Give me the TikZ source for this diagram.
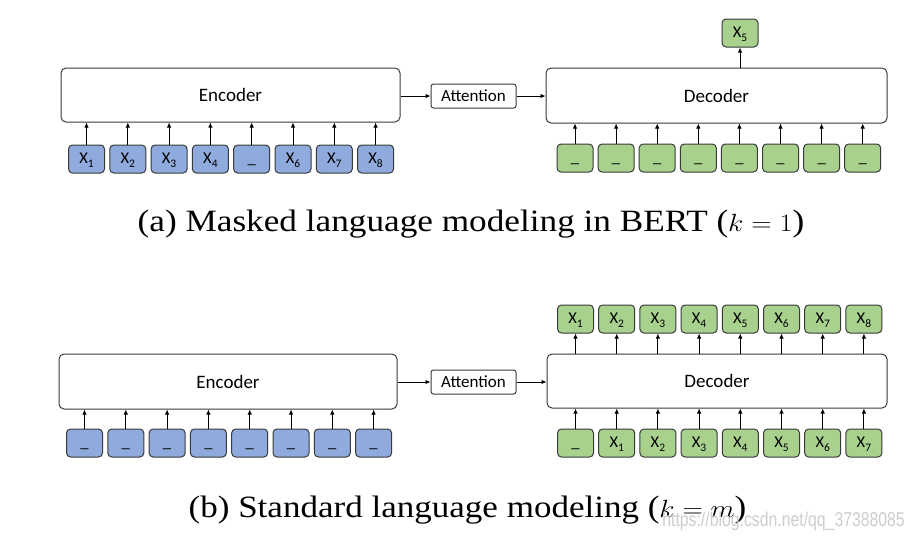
\documentclass[tikz,border=0pt]{standalone}
\usepackage{fontspec}
\usepackage{graphicx}
\setmainfont{Liberation Serif}
\newfontfamily\boxfont{Carlito}
\newfontfamily\wmfont{Liberation Sans}
\usetikzlibrary{arrows.meta}
\definecolor{edge}{HTML}{3A3A3A}
\definecolor{tokblue}{HTML}{8FAADC}
\definecolor{tokgreen}{HTML}{A9D18E}
\definecolor{wmgray}{HTML}{CDCDCD}
\newcommand\xs[1]{X\raisebox{-4pt}{\fontsize{11.5}{12}\selectfont #1}}
\tikzset{
 bigbox/.style={draw=edge, line width=1pt, rounded corners=5pt, fill=white, inner sep=0pt, font=\boxfont\fontsize{19}{21}\selectfont},
 attbox/.style={draw=edge, line width=1pt, rounded corners=2.5pt, fill=white, minimum width=85pt, minimum height=24pt, inner sep=0pt, font=\boxfont\fontsize{17}{19}\selectfont},
 tok/.style={draw=edge, line width=1pt, rounded corners=4pt, minimum width=36pt, minimum height=28pt, inner sep=0pt, text height=11pt, text depth=2pt, font=\boxfont\fontsize{16.5}{18}\selectfont},
 btok/.style={tok, fill=tokblue},
 gtok/.style={tok, fill=tokgreen},
 arr/.style={-{Latex[length=5pt,width=4.5pt]}, line width=0.9pt, draw=black},
 captext/.style={font=\fontsize{31}{36}\selectfont, inner sep=0pt, anchor=base},
 wmark/.style={font=\wmfont\fontsize{20}{22}\selectfont, text=wmgray, inner sep=0pt, anchor=base east}
}
\begin{document}
\begin{tikzpicture}[x=1pt,y=-1pt]
\useasboundingbox (0,0) rectangle (916,544);
% ---------- (a) ----------
\node[bigbox, minimum width=339pt, minimum height=54pt] (encA) at (230.5,95) {Encoder};
\node[attbox] (attA) at (473.5,96) {Attention};
\node[bigbox, minimum width=341pt, minimum height=55pt] (decA) at (716.5,95.5) {Decoder};
\draw[arr] (encA.east |- attA) -- (attA.west);
\draw[arr] (attA.east) -- (decA.west |- attA);
\foreach \lab [count=\i from 0] in {\xs1,\xs2,\xs3,\xs4,\_,\xs6,\xs7,\xs8}{
  \node[btok] (ea\i) at (86.5+41.3*\i,159) {\lab};
  \draw[arr] (ea\i.north) -- (ea\i.north |- encA.south);
}
\foreach \i in {0,...,7}{
  \node[gtok] (da\i) at (575+41.1*\i,158) {\_};
  \draw[arr] (da\i.north) -- (da\i.north |- decA.south);
}
\node[gtok] (outA) at (740,33) {\xs5};
\draw[arr] (outA.south |- decA.north) -- (outA.south);
\node[captext] (capA) at (471,231) {\scalebox{1.136}[1]{(a) Masked language modeling in BERT ($k=1$)}};
% ---------- (b) ----------
\node[bigbox, minimum width=338pt, minimum height=55pt] (encB) at (228,381.5) {Encoder};
\node[attbox] (attB) at (473.5,382) {Attention};
\node[bigbox, minimum width=340pt, minimum height=54pt] (decB) at (717,381) {Decoder};
\draw[arr] (encB.east |- attB) -- (attB.west);
\draw[arr] (attB.east) -- (decB.west |- attB);
\foreach \i in {0,...,7}{
  \node[btok] (eb\i) at (84.5+41.3*\i,443) {\_};
  \draw[arr] (eb\i.north) -- (eb\i.north |- encB.south);
}
\foreach \lab [count=\i from 0] in {\_,\xs1,\xs2,\xs3,\xs4,\xs5,\xs6,\xs7}{
  \node[gtok] (db\i) at (575.5+41.2*\i,443) {\lab};
  \draw[arr] (db\i.north) -- (db\i.north |- decB.south);
}
\foreach \lab [count=\i from 0] in {\xs1,\xs2,\xs3,\xs4,\xs5,\xs6,\xs7,\xs8}{
  \node[gtok] (ob\i) at (575.5+41.2*\i,319) {\lab};
  \draw[arr] (ob\i.south |- decB.north) -- (ob\i.south);
}
\node[captext] (capB) at (467.5,517) {\scalebox{1.13}[1]{(b) Standard language modeling ($k=m$)}};
\node[wmark] (wm) at (905,526) {\scalebox{0.79}[1]{https://blog.csdn.net/qq\_37388085}};
\end{tikzpicture}
\end{document}
